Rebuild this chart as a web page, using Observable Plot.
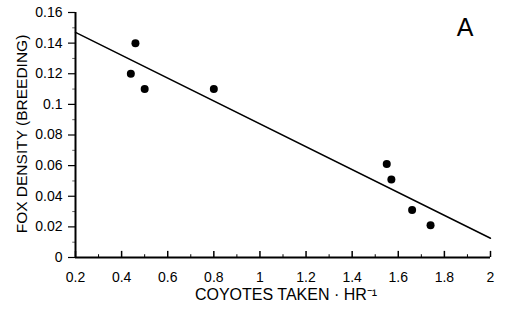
<!DOCTYPE html>
<html><head><meta charset="utf-8">
<script src="https://cdn.jsdelivr.net/npm/d3@7"></script>
<script src="https://cdn.jsdelivr.net/npm/@observablehq/plot@0.6"></script>
<style>body{margin:0;background:#fff}svg{display:block}</style>
</head><body><div id="chart"></div>
<script>
const coyotesTaken = [0.44, 0.46, 0.50, 0.80, 1.55, 1.57, 1.66, 1.74];
const foxDensity = [0.12, 0.14, 0.11, 0.11, 0.061, 0.051, 0.031, 0.021];
const fitX = [0.2, 2];
const fitY = [0.147, 0.0126];
const xTicks = [0.2, 0.4, 0.6, 0.8, 1, 1.2, 1.4, 1.6, 1.8, 2];
const xMinor = [0.3, 0.5, 0.7, 0.9, 1.1, 1.3, 1.5, 1.7, 1.9];
const yTicks = [0, 0.02, 0.04, 0.06, 0.08, 0.1, 0.12, 0.14, 0.16];
const yMinor = [0.01, 0.03, 0.05, 0.07, 0.09, 0.11, 0.13, 0.15];
const panelLabel = "A";
const xLabel = "COYOTES TAKEN · HR\u207B\u00B9";
const yLabel = "FOX DENSITY (BREEDING)";

const pts = coyotesTaken.map((x, i) => ({x, y: foxDensity[i]}));
const fit = fitX.map((x, i) => ({x, y: fitY[i]}));

const chart = Plot.plot({
  width: 508, height: 314,
  marginLeft: 75, marginRight: 18, marginTop: 12, marginBottom: 57,
  style: {fontFamily: "'Liberation Sans', Arial, sans-serif", fontSize: "14px", color: "#000", background: "#fff"},
  x: {domain: [0.2, 2]},
  y: {domain: [0, 0.16]},
  marks: [
    Plot.axisX({ticks: xTicks, tickSize: 0, tickPadding: 15, label: null, fontSize: 14, tickFormat: d => String(d)}),
    Plot.axisY({ticks: yTicks, tickSize: 7, tickPadding: 6, label: null, fontSize: 14, strokeWidth: 1.2, tickFormat: d => String(d)}),
    Plot.ruleX(xTicks, {x: d => d, y1: 0, y2: 0.004, strokeWidth: 1.5}),
    Plot.ruleX(xMinor, {x: d => d, y1: 0, y2: 0.0018, strokeWidth: 1}),
    Plot.ruleY(yMinor, {y: d => d, x1: 0.188, x2: 0.2, strokeWidth: 1, strokeOpacity: 0.6}),
    Plot.ruleY([0], {strokeWidth: 2}),
    Plot.ruleX([0.2], {strokeWidth: 2}),
    Plot.line(fit, {x: "x", y: "y", stroke: "#000", strokeWidth: 1.5}),
    Plot.dot(pts, {x: "x", y: "y", r: 4, fill: "#000"}),
    Plot.text([panelLabel], {frameAnchor: "top-right", dx: -17, dy: 6, fontSize: 25, fontWeight: 300, text: d => d}),
    Plot.text([xLabel], {frameAnchor: "bottom", dy: 42, dx: 3, fontSize: 16, text: d => d}),
    Plot.text([yLabel], {frameAnchor: "left", textAnchor: "middle", dx: -53, dy: -1, rotate: -90, fontSize: 15.5, text: d => d})
  ]
});
document.getElementById("chart").append(chart);
</script>
</body></html>
